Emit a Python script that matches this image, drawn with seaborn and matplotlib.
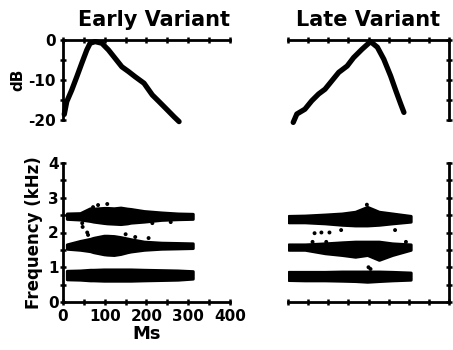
import matplotlib
matplotlib.use('Agg')
import matplotlib.pyplot as plt
import seaborn as sns
import pandas as pd

# amplitude envelopes (ms, dB)
early_ms = [3, 9, 21, 33, 45, 57, 65, 77, 93, 109, 125, 141, 157, 173, 194, 214, 230, 250, 266, 278]
early_db = [-18.6, -15.4, -12.5, -9.2, -5.8, -2.5, -0.8, -0.4, -0.8, -2.5, -4.6, -6.7, -7.9, -9.2,
            -10.8, -13.75, -15.4, -17.5, -19.2, -20.4]
late_ms = [13, 22, 42, 59, 76, 92, 109, 126, 147, 163, 184, 205, 222, 238, 255, 268, 280, 288]
late_db = [-20.6, -18.5, -17.3, -15.2, -13.5, -12.3, -10.2, -8.1, -6.5, -4.4, -2.3, -0.4, -1.8,
           -4.8, -9.0, -12.7, -16.0, -18.1]

# spectral bands: time (ms) and upper/lower edges (kHz)
early_t = [9, 41, 65, 73, 98, 106, 122, 138, 154, 162, 194, 235, 275, 311]
early_f3_hi = [2.55, 2.56, 2.70, 2.69, 2.71, 2.71, 2.70, 2.72, 2.69, 2.68, 2.62, 2.58, 2.55, 2.54]
early_f3_lo = [2.39, 2.37, 2.33, 2.31, 2.27, 2.26, 2.25, 2.24, 2.26, 2.28, 2.31, 2.36, 2.38, 2.39]
early_f2_hi = [1.66, 1.76, 1.82, 1.85, 1.91, 1.91, 1.90, 1.87, 1.83, 1.81, 1.74, 1.71, 1.70, 1.69]
early_f2_lo = [1.53, 1.50, 1.46, 1.43, 1.37, 1.36, 1.35, 1.38, 1.43, 1.45, 1.50, 1.53, 1.54, 1.55]
early_f1_hi = [0.90, 0.91, 0.93, 0.93, 0.94, 0.94, 0.94, 0.94, 0.94, 0.94, 0.93, 0.92, 0.91, 0.89]
early_f1_lo = [0.65, 0.64, 0.62, 0.62, 0.61, 0.61, 0.61, 0.61, 0.61, 0.61, 0.62, 0.63, 0.64, 0.67]

late_t = [1, 42, 92, 134, 167, 197, 226, 259, 305]
late_f3_hi = [2.48, 2.49, 2.52, 2.55, 2.60, 2.74, 2.60, 2.55, 2.48]
late_f3_lo = [2.29, 2.29, 2.26, 2.22, 2.20, 2.20, 2.22, 2.26, 2.31]
late_f2_hi = [1.66, 1.66, 1.69, 1.72, 1.74, 1.74, 1.74, 1.69, 1.66]
late_f2_lo = [1.50, 1.50, 1.40, 1.35, 1.30, 1.35, 1.21, 1.35, 1.50]
late_f1_hi = [0.87, 0.87, 0.87, 0.88, 0.88, 0.88, 0.88, 0.87, 0.85]
late_f1_lo = [0.63, 0.62, 0.62, 0.61, 0.60, 0.58, 0.60, 0.62, 0.64]

# stray points
early_dot_ms = [72, 84, 106, 46, 47, 58, 60, 214, 258, 173, 205, 150]
early_dot_khz = [2.73, 2.79, 2.82, 2.27, 2.16, 2.00, 1.93, 2.27, 2.30, 1.87, 1.84, 1.95]
late_dot_ms = [66, 83, 103, 132, 266, 61, 293, 95, 200, 205, 196]
late_dot_khz = [1.98, 2.00, 2.00, 2.07, 2.07, 1.73, 1.73, 1.73, 1.00, 0.95, 2.80]

sns.set_style('ticks')
plt.rcParams['font.family'] = ['DejaVu Sans']
plt.rcParams['font.weight'] = 'bold'
plt.rcParams['axes.unicode_minus'] = False
for k in ('text.color', 'axes.labelcolor', 'xtick.color', 'ytick.color', 'axes.edgecolor'):
    plt.rcParams[k] = 'black'

W, H = 453, 350
fig = plt.figure(figsize=(W / 100, H / 100), dpi=100)


def rect(l, r, t, b):
    return [l / W, 1 - b / H, (r - l) / W, (b - t) / H]


ax_el = fig.add_axes(rect(63, 230, 40, 120))
ax_ll = fig.add_axes(rect(288, 449, 40, 120))
ax_es = fig.add_axes(rect(63, 230, 163, 302))
ax_ls = fig.add_axes(rect(288, 449, 163, 302))

for ax in (ax_el, ax_ll, ax_es, ax_ls):
    ax.set_xlim(0, 400)
    ax.set_xticks(range(0, 401, 50))
    for s in ax.spines.values():
        s.set_linewidth(2)
    ax.tick_params(direction='inout', length=4, width=1.8, labelsize=11, pad=3)

# amplitude
amp_e = pd.DataFrame({'ms': early_ms, 'db': early_db})
amp_l = pd.DataFrame({'ms': late_ms, 'db': late_db})
for ax, d in ((ax_el, amp_e), (ax_ll, amp_l)):
    sns.lineplot(data=d, x='ms', y='db', ax=ax, color='black', lw=3.8,
                 solid_capstyle='round', solid_joinstyle='round', clip_on=False)
    ax.set_ylim(-20, 0)
    ax.set_yticks(range(-20, 1, 5))
    ax.set_xlabel('')
    ax.set_ylabel('')
    ax.xaxis.tick_top()
    ax.spines['bottom'].set_visible(False)
    ax.set_xticklabels([])

ax_el.spines['right'].set_visible(False)
ax_el.set_yticklabels(['-20', '', '-10', '', '0'])
ax_el.set_ylabel('dB', fontsize=11, fontweight='bold', labelpad=2)
ax_el.set_title('Early Variant', fontsize=15, fontweight='bold', pad=10, x=0.545)

ax_ll.spines['left'].set_visible(False)
ax_ll.yaxis.tick_right()
ax_ll.set_yticklabels([])
ax_ll.set_title('Late Variant', fontsize=15, fontweight='bold', pad=10)

# spectra
bands_e = [(early_f3_lo, early_f3_hi), (early_f2_lo, early_f2_hi), (early_f1_lo, early_f1_hi)]
bands_l = [(late_f3_lo, late_f3_hi), (late_f2_lo, late_f2_hi), (late_f1_lo, late_f1_hi)]
for ax, t, bands, dms, dk in ((ax_es, early_t, bands_e, early_dot_ms, early_dot_khz),
                              (ax_ls, late_t, bands_l, late_dot_ms, late_dot_khz)):
    for lo, hi in bands:
        ax.fill_between(t, lo, hi, color='black', lw=2, edgecolor='black', joinstyle='round')
    sns.scatterplot(x=dms, y=dk, ax=ax, color='black', s=8, edgecolor='none')
    ax.set_ylim(0, 4)
    ax.set_yticks([0, 0.5, 1, 1.5, 2, 2.5, 3, 3.5, 4])
    ax.spines['top'].set_visible(False)

ax_es.spines['right'].set_visible(False)
ax_es.set_yticklabels(['0', '', '1', '', '2', '', '3', '', '4'])
ax_es.set_xticklabels(['0', '', '100', '', '200', '', '300', '', '400'])
ax_es.tick_params(axis='y', pad=1)
ax_es.set_ylabel('Frequency (kHz)', fontsize=12, fontweight='bold', labelpad=4)
ax_es.set_xlabel('Ms', fontsize=13, fontweight='bold', labelpad=1)

ax_ls.spines['left'].set_visible(False)
ax_ls.yaxis.tick_right()
ax_ls.set_yticklabels([])
ax_ls.set_xticklabels([])

fig.savefig('out.png', dpi=100)
